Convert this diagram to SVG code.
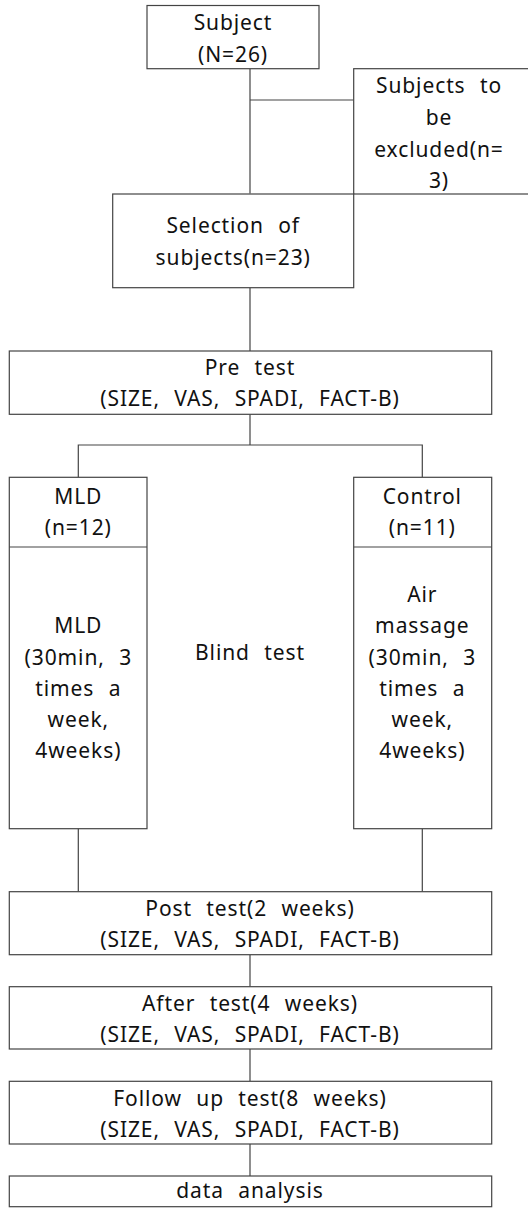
<svg xmlns="http://www.w3.org/2000/svg" width="528" height="1208" viewBox="0 0 528 1208">
  <style>
    .box { fill: #ffffff; stroke: #444444; stroke-width: 1.2; }
    .link { fill: none; stroke: #444444; stroke-width: 1.2; }
    text { font-family: "Noto Sans", "Open Sans", sans-serif; font-size: 21px; fill: #111111; text-anchor: middle; letter-spacing: 0.9px; word-spacing: 8px; }
  </style>
  <rect width="528" height="1208" fill="#ffffff"/>

  <!-- connectors -->
  <g id="connectors">
    <path class="link" d="M250 68.7 V193.5"/>
    <path class="link" d="M250 100 H353.7"/>
    <path class="link" d="M250 287.7 V351"/>
    <path class="link" d="M250 414.3 V445 M78.3 477.3 V445 H422.3 V477.3"/>
    <path class="link" d="M78.3 828.7 V891.7 M422.3 828.7 V891.7"/>
    <path class="link" d="M250 954.7 V986.7"/>
    <path class="link" d="M250 1049 V1081.3"/>
    <path class="link" d="M250 1144 V1176"/>
  </g>

  <g id="subject">
    <rect class="box" x="147" y="5.5" width="172" height="63.2"/>
    <text x="233" y="30">Subject</text>
    <text x="233" y="61.7">(N=26)</text>
  </g>

  <g id="excluded">
    <rect class="box" x="353.7" y="68.7" width="190" height="125.3"/>
    <text x="439" y="93.3">Subjects to</text>
    <text x="439" y="125">be</text>
    <text x="439" y="156.7">excluded(n=</text>
    <text x="439" y="188.3">3)</text>
  </g>

  <g id="selection">
    <rect class="box" x="112.7" y="194" width="241" height="93.7"/>
    <text x="233.2" y="233.3">Selection of</text>
    <text x="233.2" y="265">subjects(n=23)</text>
  </g>

  <g id="pre-test">
    <rect class="box" x="9.3" y="351" width="482.4" height="63.3"/>
    <text x="250" y="375">Pre test</text>
    <text x="250" y="406">(SIZE, VAS, SPADI, FACT-B)</text>
  </g>

  <g id="mld-group">
    <rect class="box" x="9.3" y="477.3" width="137.7" height="351.4"/>
    <path class="link" d="M9.3 547 H147"/>
    <text x="78.3" y="504">MLD</text>
    <text x="78.3" y="535">(n=12)</text>
    <text x="78.3" y="633.3">MLD</text>
    <text x="78.3" y="665">(30min, 3</text>
    <text x="78.3" y="696">times a</text>
    <text x="78.3" y="727.3">week,</text>
    <text x="78.3" y="758.3">4weeks)</text>
  </g>

  <g id="blind-test">
    <text x="250" y="660">Blind test</text>
  </g>

  <g id="control-group">
    <rect class="box" x="353.7" y="477.3" width="138" height="351.4"/>
    <path class="link" d="M353.7 547 H491.7"/>
    <text x="422.3" y="504">Control</text>
    <text x="422.3" y="535">(n=11)</text>
    <text x="422.3" y="601.7">Air</text>
    <text x="422.3" y="633.3">massage</text>
    <text x="422.3" y="665">(30min, 3</text>
    <text x="422.3" y="696">times a</text>
    <text x="422.3" y="727.3">week,</text>
    <text x="422.3" y="758.3">4weeks)</text>
  </g>

  <g id="post-test">
    <rect class="box" x="9.3" y="891.7" width="482.4" height="63"/>
    <text x="250" y="916">Post test(2 weeks)</text>
    <text x="250" y="947">(SIZE, VAS, SPADI, FACT-B)</text>
  </g>

  <g id="after-test">
    <rect class="box" x="9.3" y="986.7" width="482.4" height="62.3"/>
    <text x="250" y="1011">After test(4 weeks)</text>
    <text x="250" y="1042">(SIZE, VAS, SPADI, FACT-B)</text>
  </g>

  <g id="follow-up-test">
    <rect class="box" x="9.3" y="1081.3" width="482.4" height="62.7"/>
    <text x="250" y="1105.5">Follow up test(8 weeks)</text>
    <text x="250" y="1137">(SIZE, VAS, SPADI, FACT-B)</text>
  </g>

  <g id="data-analysis">
    <rect class="box" x="9.3" y="1176" width="482.4" height="30.7"/>
    <text x="250" y="1198.3">data analysis</text>
  </g>
</svg>
